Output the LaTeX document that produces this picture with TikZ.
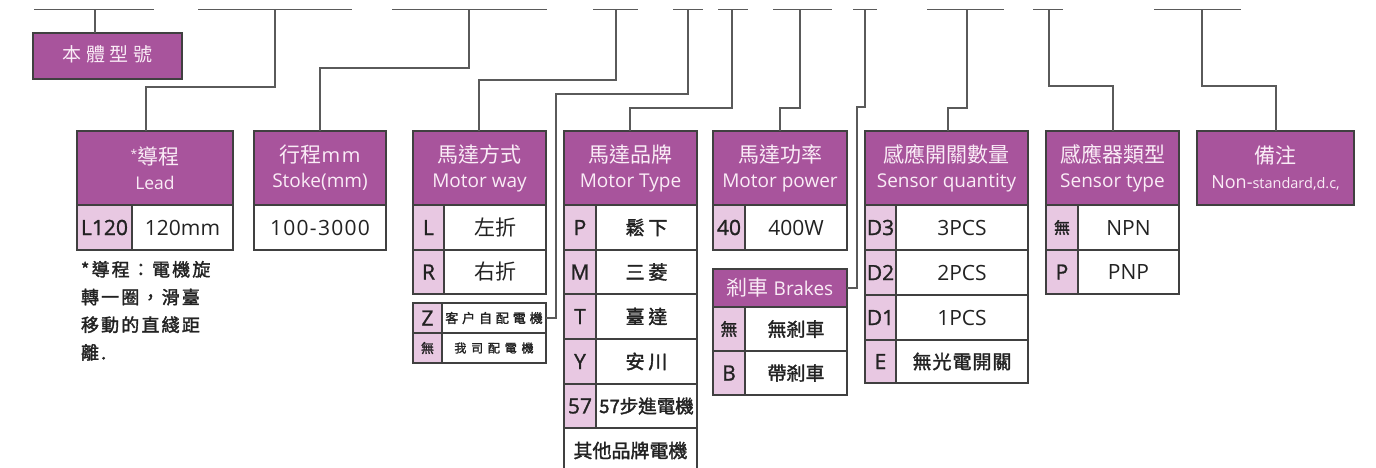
\documentclass[tikz,border=0pt]{standalone}
\usepackage{fontspec}
\setmainfont{Open Sans}
\newfontfamily\latb[FakeBold=1.2]{Open Sans}
\newfontfamily\cjk{Noto Sans CJK TC}
\newfontfamily\cjkb[FakeBold=1.8]{Noto Sans CJK TC}
\usetikzlibrary{positioning}
\definecolor{hdrpurple}{RGB}{168,84,156}
\definecolor{codepink}{RGB}{232,200,226}
\definecolor{framegray}{RGB}{64,64,64}
\definecolor{wiregray}{RGB}{90,90,90}
\definecolor{hdrtext}{RGB}{250,236,246}
\definecolor{bodytext}{RGB}{34,34,34}
\newcommand{\psz}[1]{\fontsize{#1}{25}\selectfont}
\newcommand{\wide}[1]{\addfontfeatures{LetterSpace=#1}}

\begin{document}
\begin{tikzpicture}[x=1pt, y=-1pt,
	every node/.style={inner sep=0pt, outer sep=0pt},
	hdr/.style={draw=framegray, line width=1.3pt, fill=hdrpurple, text=hdrtext, align=center, anchor=north west, font=\psz{19}},
	codecell/.style={draw=framegray, line width=1.3pt, fill=codepink, text=bodytext, anchor=north west, font=\latb\psz{21}},
	valcell/.style={draw=framegray, line width=1.3pt, fill=white, text=bodytext, anchor=north west, font=\psz{21}},
	wire/.style={draw=wiregray, line width=1.4pt},
	bar/.style={draw=wiregray, line width=1.4pt}]
	\useasboundingbox (0,0) rectangle (1376,467);
	\clip (0,0) rectangle (1376,467);

	% code slots along the top
	\foreach \a/\b in {34/154, 198/352, 392/547, 593/638, 673/703, 718/748, 773/832, 853/877, 927/1004, 1033/1063, 1154/1241}
		\draw[bar] (\a,9.5) -- (\b,9.5);
	\foreach \n/\x in {1/95, 2/275, 3/469, 4/616, 5/688, 6/732, 7/800, 8/865, 9/967, 10/1049, 11/1202}
		\coordinate (s\n) at (\x,9.5);
	\foreach \n/\x/\y in {2/146/87, 3/320/68, 4/479/80, 5/556/94, 6/630/108, 7/780/108, 8/857/107, 9/948/108, 10/1113/86, 11/1276/86}
		\coordinate (j\n) at (\x,\y);

	% model
	\node[hdr, minimum width=149pt, minimum height=46pt] (body) at (33,33) {\raisebox{5pt}{\cjk\psz{19}\wide{25}本體型號}};

	% lead
	\node[hdr, minimum width=156pt, minimum height=74pt] (lead) at (77,131) {\raisebox{6pt}{\psz{12}*}{\cjk\psz{21}導程}\\{\psz{17.5}Lead}};
	\node[codecell, minimum width=55pt, minimum height=45pt] (leadc) at (lead.south west) {L120};
	\node[valcell, minimum width=101pt, minimum height=45pt] (leadv) at (leadc.north east) {120mm};
	\node[anchor=north west, align=left, text=bodytext, font=\cjkb\fontsize{18}{27.7}\selectfont\wide{12}] (leadnote) at (81,261) {*導程：電機旋\\轉一圈，滑臺\\移動的直綫距\\離.};

	% stroke
	\node[hdr, minimum width=132pt, minimum height=74pt] (stroke) at (254,131) {{\cjk\psz{21}行程}{\psz{20}\wide{8}mm}\\Stoke(mm)};
	\node[valcell, minimum width=132pt, minimum height=45pt] (strokev) at (stroke.south west) {\wide{6}100-3000};

	% motor way
	\node[hdr, minimum width=133pt, minimum height=74pt] (way) at (413,131) {{\cjk\psz{21}馬達方式}\\Motor way};
	\node[codecell, minimum width=31pt, minimum height=45pt] (wayc1) at (way.south west) {L};
	\node[valcell, minimum width=102pt, minimum height=45pt] (wayv1) at (wayc1.north east) {\cjk 左折};
	\node[codecell, minimum width=31pt, minimum height=44pt] (wayc2) at (wayc1.south west) {R};
	\node[valcell, minimum width=102pt, minimum height=44pt] (wayv2) at (wayc2.north east) {\cjk 右折};
	\node[codecell, minimum width=29pt, minimum height=30pt] (zc1) at (413,303) {Z};
	\node[valcell, minimum width=104pt, minimum height=30pt, font=\cjkb\psz{13}\wide{30}] (zval1) at (zc1.north east) {客户自配電機};
	\node[codecell, minimum width=29pt, minimum height=30pt, font=\cjkb\psz{13}] (zc2) at (zc1.south west) {無};
	\node[valcell, minimum width=104pt, minimum height=30pt, font=\cjkb\psz{12}\wide{40}] (zval2) at (zc2.north east) {我司配電機};

	% motor type
	\node[hdr, minimum width=133pt, minimum height=74pt] (type) at (564,131) {{\cjk\psz{21}馬達品牌}\\Motor Type};
	\node[codecell, minimum width=32pt, minimum height=45pt] (typec1) at (type.south west) {P};
	\node[valcell, minimum width=101pt, minimum height=45pt, font=\cjkb\psz{19}\wide{20}] (typev1) at (typec1.north east) {鬆下};
	\node[codecell, minimum width=32pt, minimum height=44pt] (typec2) at (typec1.south west) {M};
	\node[valcell, minimum width=101pt, minimum height=44pt, font=\cjkb\psz{19}\wide{20}] (typev2) at (typec2.north east) {三菱};
	\node[codecell, minimum width=32pt, minimum height=45pt] (typec3) at (typec2.south west) {T};
	\node[valcell, minimum width=101pt, minimum height=45pt, font=\cjkb\psz{19}\wide{20}] (typev3) at (typec3.north east) {臺達};
	\node[codecell, minimum width=32pt, minimum height=45pt] (typec4) at (typec3.south west) {Y};
	\node[valcell, minimum width=101pt, minimum height=45pt, font=\cjkb\psz{19}\wide{20}] (typev4) at (typec4.north east) {安川};
	\node[codecell, minimum width=32pt, minimum height=44pt] (typec5) at (typec4.south west) {57};
	\node[valcell, minimum width=101pt, minimum height=44pt, font=\cjkb\psz{18.5}] (typev5) at (typec5.north east) {57步進電機};
	\node[valcell, minimum width=133pt, minimum height=45pt, font=\cjkb\psz{19}] (typev6) at (typec5.south west) {其他品牌電機};

	% motor power and brakes
	\node[hdr, minimum width=134pt, minimum height=74pt] (power) at (713,131) {{\cjk\psz{21}馬達功率}\\Motor power};
	\node[codecell, minimum width=32pt, minimum height=45pt] (powerc) at (power.south west) {40};
	\node[valcell, minimum width=102pt, minimum height=45pt] (powerv) at (powerc.north east) {400W};
	\node[hdr, minimum width=134pt, minimum height=38pt] (brake) at (713,269) {{\cjk\psz{21}剎車} Brakes};
	\node[codecell, minimum width=32pt, minimum height=44pt, font=\cjkb\psz{17}] (brakec1) at (brake.south west) {無};
	\node[valcell, minimum width=102pt, minimum height=44pt, font=\cjkb\psz{19}] (brakev1) at (brakec1.north east) {無剎車};
	\node[codecell, minimum width=32pt, minimum height=44pt] (brakec2) at (brakec1.south west) {B};
	\node[valcell, minimum width=102pt, minimum height=44pt, font=\cjkb\psz{19}] (brakev2) at (brakec2.north east) {帶剎車};

	% sensor quantity
	\node[hdr, minimum width=163pt, minimum height=74pt] (qty) at (865,131) {{\cjk\psz{21}感應開關數量}\\Sensor quantity};
	\node[codecell, minimum width=31pt, minimum height=45pt] (qtyc1) at (qty.south west) {D3};
	\node[valcell, minimum width=132pt, minimum height=45pt] (qtyv1) at (qtyc1.north east) {3PCS};
	\node[codecell, minimum width=31pt, minimum height=45pt] (qtyc2) at (qtyc1.south west) {D2};
	\node[valcell, minimum width=132pt, minimum height=45pt] (qtyv2) at (qtyc2.north east) {2PCS};
	\node[codecell, minimum width=31pt, minimum height=45pt] (qtyc3) at (qtyc2.south west) {D1};
	\node[valcell, minimum width=132pt, minimum height=45pt] (qtyv3) at (qtyc3.north east) {1PCS};
	\node[codecell, minimum width=31pt, minimum height=43pt] (qtyc4) at (qtyc3.south west) {E};
	\node[valcell, minimum width=132pt, minimum height=43pt, font=\cjkb\psz{19}\wide{5}] (qtyv4) at (qtyc4.north east) {無光電開關};

	% sensor type
	\node[hdr, minimum width=133pt, minimum height=74pt] (stype) at (1046,131) {{\cjk\psz{21}感應器類型}\\Sensor type};
	\node[codecell, minimum width=32pt, minimum height=45pt, font=\cjkb\psz{16}] (stypec1) at (stype.south west) {無};
	\node[valcell, minimum width=101pt, minimum height=45pt] (stypev1) at (stypec1.north east) {NPN};
	\node[codecell, minimum width=32pt, minimum height=44pt] (stypec2) at (stypec1.south west) {P};
	\node[valcell, minimum width=101pt, minimum height=44pt] (stypev2) at (stypec2.north east) {PNP};

	% remarks
	\node[hdr, minimum width=157pt, minimum height=74pt] (note) at (1197,131) {{\cjk\psz{21}備注}\\{\psz{18}Non-}{\psz{14.5}standard,d.c,}};

	% connectors
	\draw[wire] (s1) -- (s1 |- body.north);
	\draw[wire] (s2) |- (j2) -- (j2 |- lead.north);
	\draw[wire] (s3) |- (j3) -- (j3 |- stroke.north);
	\draw[wire] (s4) |- (j4) -- (j4 |- way.north);
	\draw[wire] (s5) |- (j5) |- (zval1.east);
	\draw[wire] (s6) |- (j6) -- (j6 |- type.north);
	\draw[wire] (s7) |- (j7) -- (j7 |- power.north);
	\draw[wire] (s8) |- (j8) |- (brake.east);
	\draw[wire] (s9) |- (j9) -- (j9 |- qty.north);
	\draw[wire] (s10) |- (j10) -- (j10 |- stype.north);
	\draw[wire] (s11) |- (j11) -- (j11 |- note.north);
\end{tikzpicture}
\end{document}
